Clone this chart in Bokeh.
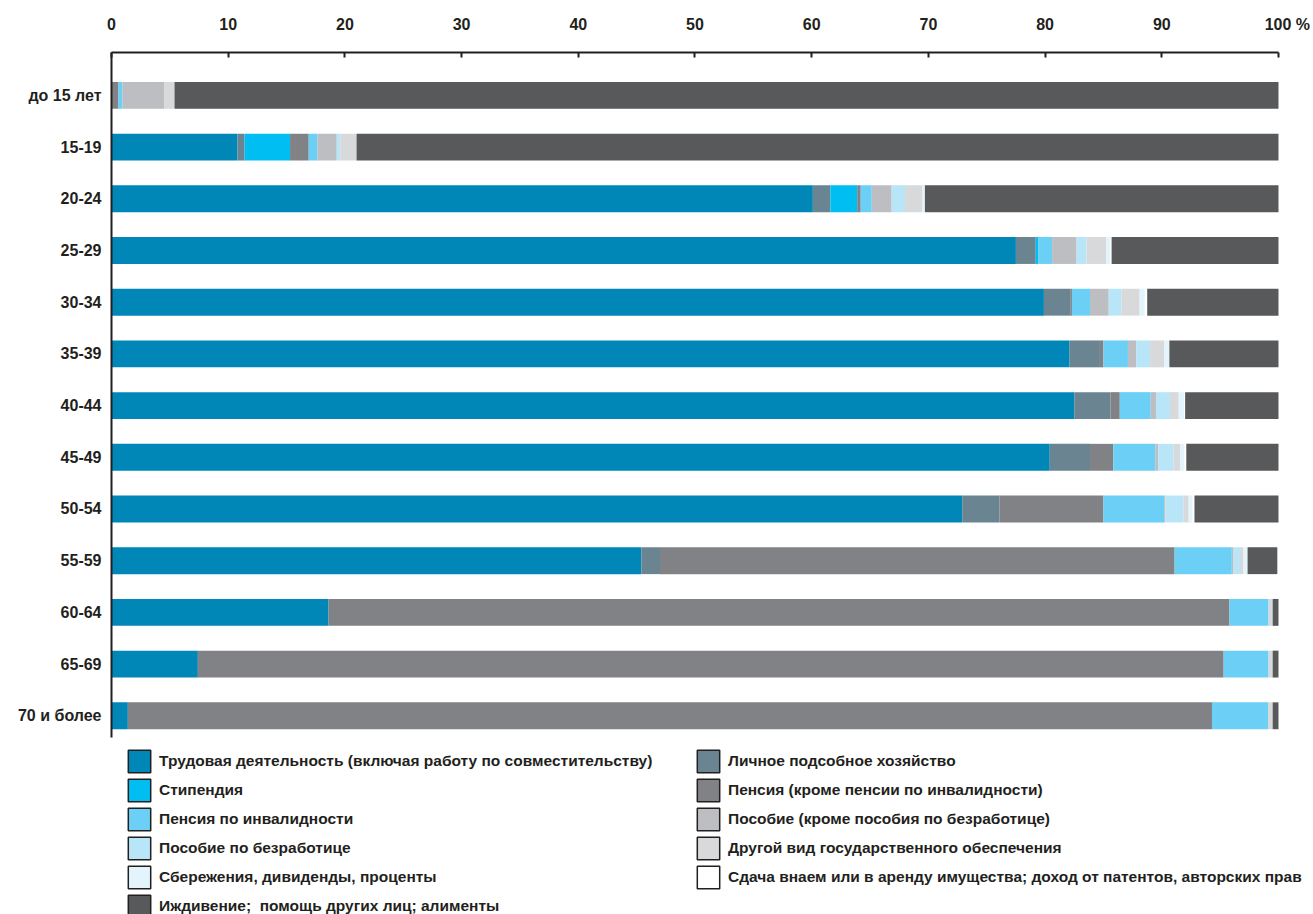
from bokeh.plotting import figure
from bokeh.models import (Range1d, FixedTicker, Legend, LegendItem,
                          ColumnDataSource)
from bokeh.embed import file_html
from bokeh.resources import INLINE

# ---------------- data ----------------
categories = ["до 15 лет", "15-19", "20-24", "25-29", "30-34", "35-39", "40-44",
              "45-49", "50-54", "55-59", "60-64", "65-69", "70 и более"]

trud     = [0.0, 10.8, 60.1, 77.5, 79.9, 82.1, 82.5, 80.4, 72.9, 45.4, 18.6, 7.4, 1.4]
lichnoe  = [0.0, 0.6, 1.5, 1.7, 2.3, 2.6, 3.1, 3.45, 3.2, 1.6, 0.0, 0.0, 0.0]
stipend  = [0.0, 3.9, 2.3, 0.2, 0.0, 0.0, 0.0, 0.0, 0.0, 0.0, 0.0, 0.0, 0.0]
pensia   = [0.6, 1.6, 0.3, 0.0, 0.1, 0.3, 0.8, 2.0, 8.9, 44.1, 77.2, 87.9, 92.9]
pens_inv = [0.34, 0.75, 0.95, 1.2, 1.55, 2.1, 2.65, 3.6, 5.2, 4.9, 3.35, 3.85, 4.8]
posobie  = [3.6, 1.65, 1.7, 2.1, 1.6, 0.7, 0.45, 0.25, 0.1, 0.15, 0.0, 0.0, 0.0]
bezrab   = [0.0, 0.3, 1.15, 0.85, 1.1, 1.2, 1.2, 1.3, 1.55, 0.55, 0.0, 0.0, 0.0]
drugoy   = [0.86, 1.4, 1.5, 1.7, 1.55, 1.2, 0.75, 0.6, 0.45, 0.3, 0.35, 0.35, 0.4]
sberezh  = [0.0, 0.0, 0.2, 0.35, 0.45, 0.45, 0.45, 0.35, 0.35, 0.35, 0.0, 0.0, 0.0]
sdacha   = [0.0, 0.0, 0.0, 0.1, 0.2, 0.0, 0.1, 0.15, 0.15, 0.0, 0.0, 0.0, 0.0]
izhdiv   = [94.6, 79.0, 30.3, 14.3, 11.25, 9.35, 8.0, 7.9, 7.2, 2.55, 0.5, 0.5, 0.5]

x_ticks = [0, 10, 20, 30, 40, 50, 60, 70, 80, 90, 100]
x_unit = "%"

labels = {
    "trud": "Трудовая деятельность (включая работу по совместительству)",
    "lichnoe": "Личное подсобное хозяйство",
    "stipend": "Стипендия",
    "pensia": "Пенсия (кроме пенсии по инвалидности)",
    "pens_inv": "Пенсия по инвалидности",
    "posobie": "Пособие (кроме пособия по безработице)",
    "bezrab": "Пособие по безработице",
    "drugoy": "Другой вид государственного обеспечения",
    "sberezh": "Сбережения, дивиденды, проценты",
    "sdacha": "Сдача внаем или в аренду имущества; доход от патентов, авторских прав",
    "izhdiv": "Иждивение;  помощь других лиц; алименты",
}
colors = {
    "trud": "#0087B7", "lichnoe": "#6A8591", "stipend": "#00BEF2",
    "pensia": "#818285", "pens_inv": "#6CCFF6", "posobie": "#BCBEC1",
    "bezrab": "#B9E5F9", "drugoy": "#D8D9DB", "sberezh": "#E3F4FC",
    "sdacha": "#FFFFFF", "izhdiv": "#58595B",
}
stack_order = ["trud", "lichnoe", "stipend", "pensia", "pens_inv", "posobie",
               "bezrab", "drugoy", "sberezh", "sdacha", "izhdiv"]
legend_order = ["trud", "stipend", "pens_inv", "bezrab", "sberezh", "izhdiv",
                "lichnoe", "pensia", "posobie", "drugoy", "sdacha"]

FONT = "Liberation Sans"
INK = "#231F20"
NBSP = "\u00a0"

source = ColumnDataSource(dict(
    y=list(range(len(categories))),
    trud=trud, lichnoe=lichnoe, stipend=stipend, pensia=pensia,
    pens_inv=pens_inv, posobie=posobie, bezrab=bezrab, drugoy=drugoy,
    sberezh=sberezh, sdacha=sdacha, izhdiv=izhdiv,
))

Y_TOP, Y_AXIS_END, Y_FRAME_END = -0.83, 12.42, 15.844
X_FRAME_END = 103.0

p = figure(width=1313, height=914, output_backend="svg", toolbar_location=None,
           x_range=Range1d(0, X_FRAME_END), y_range=Range1d(Y_FRAME_END, Y_TOP),
           x_axis_location="above",
           min_border_left=111, min_border_right=0,
           min_border_top=52, min_border_bottom=0)
p.outline_line_color = None
p.xgrid.visible = False
p.ygrid.visible = False

p.hbar_stack(stack_order, y="y", height=0.52, source=source,
             color=[colors[k] for k in stack_order], line_width=0)

# x axis (top), line limited to 0..100; the last tick carries the unit sign
xa = p.xaxis[0]
xa.ticker = FixedTicker(ticks=x_ticks)
xa.bounds = (0, 100)
xa.major_label_overrides = {x_ticks[-1]: NBSP * 4 + str(x_ticks[-1]) + NBSP + x_unit}
xa.major_tick_in = 5
xa.major_tick_out = 0
xa.minor_tick_line_color = None
xa.axis_line_width = 2
xa.axis_line_color = INK
xa.major_tick_line_width = 2
xa.major_tick_line_color = INK
xa.major_label_text_font = FONT
xa.major_label_text_font_style = "bold"
xa.major_label_text_font_size = "16px"
xa.major_label_text_color = INK
xa.major_label_standoff = 20

# y axis (left), line limited to the bar area
ya = p.yaxis[0]
ya.ticker = FixedTicker(ticks=list(range(len(categories))))
ya.major_label_overrides = {i: c for i, c in enumerate(categories)}
ya.bounds = (Y_TOP, Y_AXIS_END)
ya.major_tick_in = 0
ya.major_tick_out = 0
ya.minor_tick_line_color = None
ya.axis_line_width = 2
ya.axis_line_color = INK
ya.major_label_text_font = FONT
ya.major_label_text_font_style = "bold"
ya.major_label_text_font_size = "16px"
ya.major_label_text_color = INK
ya.major_label_standoff = 10

# legend (outlined boxes); proxy renderers hold a single NaN row so nothing is drawn
nan = float("nan")
items = []
for k in legend_order:
    r = p.hbar(y=[nan], right=[nan], height=0.5, fill_color=colors[k],
               line_color=INK, line_width=1.5)
    items.append(LegendItem(label=labels[k], renderers=[r]))

legend = Legend(items=items, location=(14, -6), orientation="vertical", ncols=2,
                glyph_width=28, glyph_height=28, label_standoff=6, spacing=1,
                label_width=534, padding=0, margin=0,
                border_line_color=None, background_fill_alpha=0,
                label_text_font=FONT, label_text_font_style="bold",
                label_text_font_size="15.5px", label_text_color=INK)
p.add_layout(legend, "center")

open("out.html", "w").write(file_html(p, INLINE))
